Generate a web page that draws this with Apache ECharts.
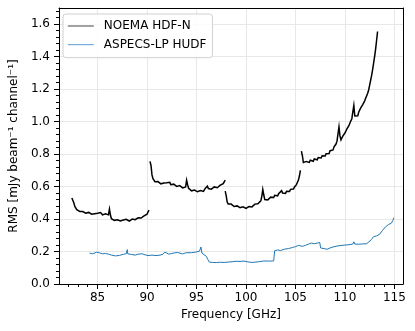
<!DOCTYPE html>
<html>
<head>
<meta charset="utf-8">
<script src="https://cdn.jsdelivr.net/npm/echarts@6/dist/echarts.min.js"></script>
<style>
  html, body { margin: 0; padding: 0; background: #fff; }
  #chart { width: 415px; height: 331px; }
</style>
</head>
<body>
<div id="chart"></div>
<script>
// NOEMA HDF-N: four tunings, channel step 0.1 GHz, values in mJy/beam/channel
var noemaStep = 0.1;
var noemaSeg1Start = 82.4;
var noemaSeg1 = [
  .530, .522, .500, .478, .470, .458, .462, .450, .447, .452,
  .441, .446, .438, .445, .436, .440, .434, .441, .432, .438,
  .430, .437, .442, .433, .439, .431, .436, .428, .434, .440,
  .432, .426, .434, .427, .433, .424, .430, .426, .462, .425,
  .402, .395, .401, .392, .398, .389, .395, .386, .393, .388,
  .396, .387, .394, .385, .392, .398, .389, .395, .388, .397,
  .391, .400, .394, .402, .396, .405, .399, .408, .402, .411,
  .406, .414, .410, .419, .415, .426, .430, .444, .455
];
var noemaSeg2Start = 90.3;
var noemaSeg2 = [
  .755, .730, .672, .648, .636, .630, .638, .624, .631, .620,
  .628, .617, .625, .613, .622, .629, .615, .623, .611, .620,
  .626, .612, .618, .607, .615, .604, .612, .601, .609, .598,
  .606, .595, .603, .592, .600, .590, .598, .640, .612, .590,
  .578, .586, .574, .582, .571, .579, .569, .578, .568, .576,
  .566, .575, .567, .578, .570, .580, .590, .582, .603, .588,
  .581, .592, .584, .595, .587, .598, .590, .601, .593, .605,
  .597, .609, .601, .613, .618, .628, .640
];
var noemaSeg3Start = 97.9;
var noemaSeg3 = [
  .572, .545, .505, .492, .498, .486, .492, .481, .488, .477,
  .484, .474, .481, .471, .479, .470, .477, .468, .476, .467,
  .475, .466, .474, .468, .477, .471, .480, .475, .486, .481,
  .492, .487, .498, .494, .506, .500, .512, .540, .582, .548,
  .520, .512, .525, .518, .530, .522, .535, .527, .540, .533,
  .546, .538, .551, .543, .556, .549, .562, .575, .560, .552,
  .565, .558, .571, .564, .577, .570, .583, .577, .590, .585,
  .598, .600, .612, .622, .640, .665, .700
];
var noemaSeg4Start = 105.6;
var noemaSeg4 = [
  .818, .790, .748, .760, .742, .755, .746, .758, .749, .762,
  .752, .766, .756, .770, .760, .774, .765, .779, .770, .784,
  .776, .790, .781, .796, .788, .803, .795, .811, .804, .821,
  .814, .832, .826, .845, .840, .862, .880, .925, .968, .912,
  .888, .898, .912, .908, .930, .926, .955, .950, .975, .990,
  1.005, 1.018, 1.060, 1.100, 1.035, 1.025, 1.042, 1.036, 1.060, 1.070,
  1.085, 1.092, 1.105, 1.115, 1.128, 1.145, 1.160, 1.175, 1.195, 1.225,
  1.255, 1.285, 1.320, 1.360, 1.400, 1.445, 1.500, 1.555
];

// ASPECS-LP HUDF
var aspecsFreq = [
  84.2, 84.5, 84.9, 85.2, 85.5, 85.8, 86.1, 86.4, 86.8, 87.2, 87.6, 87.9, 88.0, 88.05,
  88.4, 88.8, 89.1, 89.5, 89.8, 90.1, 90.5, 90.9, 91.3, 91.6, 91.8, 91.9, 92.2, 92.5,
  92.8, 93.1, 93.3, 93.6, 93.9, 94.0, 94.1, 94.5, 94.9, 95.3, 95.45, 95.55, 95.7, 96.0,
  96.15, 96.3, 96.6, 97.0, 97.4, 97.8, 98.2, 98.6, 99.0, 99.2, 99.4, 99.8, 100.2, 100.6,
  101.0, 101.4, 101.8, 102.0, 102.4, 102.8, 102.9, 103.2, 103.5, 103.9, 104.3, 104.7,
  105.0, 105.3, 105.5, 105.7, 106.0, 106.3, 106.6, 106.9, 107.2, 107.45, 107.55, 107.9,
  108.2, 108.5, 108.8, 109.0, 109.3, 109.7, 110.0, 110.4, 110.8, 110.9, 111.0, 111.4,
  111.8, 112.2, 112.4, 112.7, 112.9, 113.2, 113.5, 113.8, 114.1, 114.4, 114.7, 114.85, 114.95
];
var aspecsRms = [
  .190, .186, .196, .192, .186, .188, .184, .178, .173, .176, .183, .186, .212, .186,
  .182, .178, .184, .186, .180, .175, .178, .175, .178, .183, .196, .186, .184, .188,
  .192, .194, .186, .185, .192, .202, .190, .193, .196, .202, .228, .190, .185, .170,
  .150, .135, .133, .132, .134, .133, .135, .137, .140, .144, .139, .141, .136, .133,
  .135, .138, .142, .139, .141, .142, .205, .210, .206, .215, .218, .225,
  .230, .238, .246, .232, .238, .245, .252, .248, .252, .256, .222, .218,
  .214, .222, .228, .225, .235, .238, .240, .242, .246, .260, .246, .245,
  .247, .248, .252, .275, .292, .296, .306, .330, .352, .366, .375, .392, .408
];

// axis ticks
var xTicks = [85, 90, 95, 100, 105, 110, 115];
var yTicks = [0, 0.2, 0.4, 0.6, 0.8, 1.0, 1.2, 1.4, 1.6];
var xRange = [81.1, 115.87];
var yRange = [0, 1.70];

var xMinor = [];
for (var f = 82; f <= 115; f++) {
  if (f % 5 !== 0) xMinor.push(f);
}
var yMinor = [];
for (var k = 1; k <= 42; k++) {
  if (k % 5 !== 0) yMinor.push(+(k * 0.04).toFixed(2));
}

function segPairs(start, vals) {
  return vals.map(function (v, i) {
    return [+(start + i * noemaStep).toFixed(2), v];
  });
}

var font = "DejaVu Sans";
var black = "#000";
var noemaName = "NOEMA HDF-N";
var aspecsName = "ASPECS-LP HUDF";

function noemaSeries(start, vals) {
  return {
    name: noemaName,
    type: "line",
    symbol: "none",
    color: black,
    lineStyle: { color: black, width: 1.5, join: "miter" },
    data: segPairs(start, vals),
    z: 3
  };
}

// hide the symbol that ECharts puts in the middle of a line legend icon
var noSymbol = { color: "rgba(0,0,0,0)", borderWidth: 0, opacity: 0 };

var chart = echarts.init(document.getElementById("chart"));
chart.setOption({
  animation: false,
  textStyle: { fontFamily: font },
  grid: { left: 57, right: 12, top: 8, bottom: 47, containLabel: false },
  legend: {
    left: 63,
    top: 14,
    orient: "vertical",
    itemWidth: 26,
    itemHeight: 10,
    itemGap: 6.7,
    padding: [6, 6, 7, 4],
    borderColor: "#d0d0d0",
    borderWidth: 1,
    borderRadius: 3,
    backgroundColor: "rgba(255,255,255,0.85)",
    textStyle: { fontFamily: font, fontSize: 12, color: "#000", padding: [0, 0, 0, 5] },
    data: [
      { name: noemaName, itemStyle: noSymbol, lineStyle: { color: "#8a8a8a", width: 1.6 } },
      { name: aspecsName, itemStyle: noSymbol, lineStyle: { color: "#5c9bd0", width: 1 } }
    ]
  },
  xAxis: [
    {
      type: "value",
      min: xRange[0],
      max: xRange[1],
      splitNumber: 7,
      name: "Frequency [GHz]",
      nameLocation: "middle",
      nameGap: 24,
      nameTextStyle: { fontFamily: font, fontSize: 12, color: "#000" },
      axisLine: { show: true, onZero: false, lineStyle: { color: black, width: 1 } },
      axisTick: { show: true, customValues: xTicks, length: 5, lineStyle: { color: black } },
      axisLabel: { customValues: xTicks, margin: 8, fontFamily: font, fontSize: 12, color: "#000" },
      splitLine: { show: true, lineStyle: { color: "#e8e8e8", width: 1 } }
    },
    {
      type: "value",
      min: xRange[0],
      max: xRange[1],
      position: "bottom",
      axisLine: { show: false },
      axisTick: { show: true, customValues: xMinor, length: 3, lineStyle: { color: black } },
      axisLabel: { show: false },
      splitLine: { show: false }
    },
    {
      type: "value",
      min: xRange[0],
      max: xRange[1],
      position: "top",
      axisLine: { show: true, onZero: false, lineStyle: { color: black, width: 1 } },
      axisTick: { show: false },
      axisLabel: { show: false },
      splitLine: { show: false }
    }
  ],
  yAxis: [
    {
      type: "value",
      min: yRange[0],
      max: yRange[1],
      interval: 0.2,
      name: "RMS [mJy beam\u207B\u00B9 channel\u207B\u00B9]",
      nameLocation: "middle",
      nameGap: 34,
      nameTextStyle: { fontFamily: font, fontSize: 12, color: "#000" },
      axisLine: { show: true, onZero: false, lineStyle: { color: black, width: 1 } },
      axisTick: { show: true, customValues: yTicks, length: 5, lineStyle: { color: black } },
      axisLabel: {
        customValues: yTicks,
        margin: 9,
        fontFamily: font,
        fontSize: 12,
        color: "#000",
        formatter: function (v) { return v.toFixed(1); }
      },
      splitLine: { show: true, lineStyle: { color: "#e8e8e8", width: 1 } }
    },
    {
      type: "value",
      min: yRange[0],
      max: yRange[1],
      position: "left",
      axisLine: { show: false },
      axisTick: { show: true, customValues: yMinor, length: 3, lineStyle: { color: black } },
      axisLabel: { show: false },
      splitLine: { show: false }
    },
    {
      type: "value",
      min: yRange[0],
      max: yRange[1],
      position: "right",
      axisLine: { show: true, onZero: false, lineStyle: { color: black, width: 1 } },
      axisTick: { show: false },
      axisLabel: { show: false },
      splitLine: { show: false }
    }
  ],
  series: [
    noemaSeries(noemaSeg1Start, noemaSeg1),
    noemaSeries(noemaSeg2Start, noemaSeg2),
    noemaSeries(noemaSeg3Start, noemaSeg3),
    noemaSeries(noemaSeg4Start, noemaSeg4),
    {
      name: aspecsName,
      type: "line",
      symbol: "none",
      color: "#1f77b4",
      lineStyle: { color: "#1f77b4", width: 1 },
      data: aspecsFreq.map(function (f, i) { return [f, aspecsRms[i]]; }),
      z: 3
    }
  ]
});
</script>
</body>
</html>
